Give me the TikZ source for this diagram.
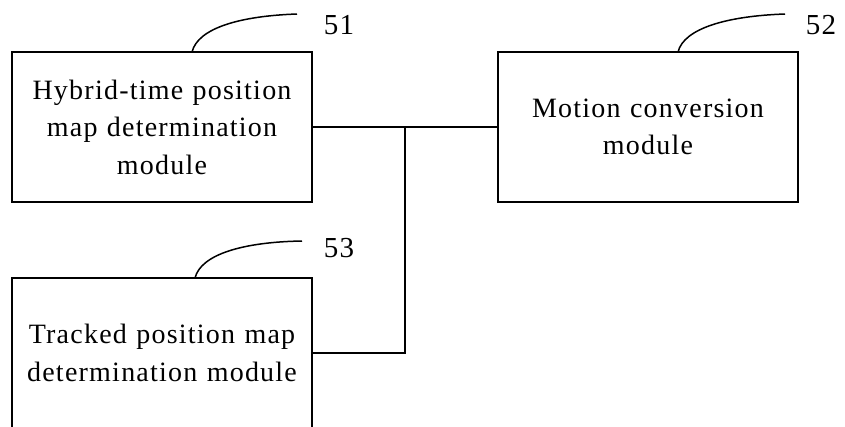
\documentclass[tikz,border=0pt]{standalone}
\usepackage{fontspec}
\setmainfont{Liberation Serif}[LetterSpace=4.4]
\begin{document}
\begin{tikzpicture}[x=1pt,y=-1pt,
  modbox/.style={draw,line width=1.5pt,minimum width=300pt,minimum height=150pt,
    text width=296pt,align=center,inner sep=0pt,font=\fontsize{28}{37.5}\selectfont},
  wire/.style={line width=1.5pt},
  lead/.style={line width=1.5pt},
  lbl/.style={font=\fontsize{29}{34}\selectfont,inner sep=0pt}]
\useasboundingbox (0,0) rectangle (845,426);
\node[modbox] (b51) at (162,127) {Hybrid-time position\\map determination\\module};
\node[modbox] (b52) at (648,127) {Motion conversion\\module};
\node[modbox] (b53) at (162,353) {Tracked position map\\determination module};
\coordinate (j) at (405,127);
\draw[wire] (b51.east) -- (j) -- (b52.west);
\draw[wire] (b53.east) -| (j);
\coordinate (s51) at (192,52);
\coordinate (e51) at (297,14);
\draw[lead] (s51) .. controls (198,28) and (240,16) .. (e51);
\node[lbl] (l51) at (339,25) {51};
\coordinate (s52) at (678,52);
\coordinate (e52) at (785,14);
\draw[lead] (s52) .. controls (684,28) and (728,16) .. (e52);
\node[lbl] (l52) at (821,25) {52};
\coordinate (s53) at (195,278);
\coordinate (e53) at (302,241);
\draw[lead] (s53) .. controls (201,254) and (244,242) .. (e53);
\node[lbl] (l53) at (339,248) {53};
\end{tikzpicture}
\end{document}
